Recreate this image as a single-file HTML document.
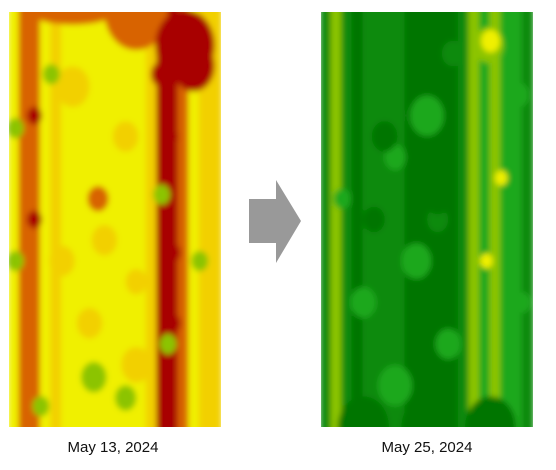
<!DOCTYPE html>
<html><head><meta charset="utf-8"><style>
body{margin:0;background:#fff;width:556px;height:470px;overflow:hidden;font-family:"Liberation Sans",sans-serif}
svg{position:absolute;left:0;top:0}
.lbl{position:absolute;top:439px;font-size:15px;color:#111;width:200px;text-align:center}
</style></head><body>
<svg id="s" width="556" height="470">
<defs>
<filter id="bl" x="-5%" y="-5%" width="110%" height="110%"><feGaussianBlur stdDeviation="3"/></filter>
<clipPath id="cl"><rect x="9" y="12" width="212" height="415"/></clipPath>
<clipPath id="cr"><rect x="321" y="12" width="212" height="415"/></clipPath>
</defs>
<g id="left" clip-path="url(#cl)"><g id="lg" filter="url(#bl)"></g></g>
<g id="right" clip-path="url(#cr)"><g id="rg" filter="url(#bl)"></g></g>
<polygon points="249,199 276,199 276,180 301,221 276,263 276,243 249,243" fill="#999"/>
</svg>
<div class="lbl" style="left:13px">May 13, 2024</div>
<div class="lbl" style="left:327px">May 25, 2024</div>
<script>
// column profiles (level 0=dark green .. 7=dark red), 20 columns per map
const leftCols=[4,6,6,4,5,4,4,4,4,4,4,4,4,5,7,7,6,4,5,5];
const rightCols=[1,3,1,0,1,1,1,1,0,0,0,0,0,1,3,2,3,2,2,1];
// patches: [colFrac, rowFrac, radiusFrac(of width), level]
const leftBlobs=[[0.3,0.0,0.2,6],[0.6,0.0,0.15,6],[0.83,0.08,0.14,7],[0.87,0.13,0.1,7],[0.3,0.18,0.08,5],[0.55,0.3,0.06,5],[0.42,0.45,0.05,6],[0.25,0.6,0.06,5],[0.38,0.75,0.06,5],[0.6,0.85,0.07,5],[0.45,0.55,0.06,5],[0.6,0.65,0.05,5],
[0.2,0.15,0.04,3],[0.72,0.44,0.04,3],[0.03,0.28,0.04,3],[0.03,0.6,0.04,3],[0.4,0.88,0.06,3],[0.55,0.93,0.05,3],[0.9,0.6,0.04,3],[0.15,0.95,0.04,3],[0.75,0.8,0.04,3],
[0.76,0.3,0.04,7],[0.77,0.58,0.04,7],[0.77,0.75,0.04,7],[0.12,0.5,0.035,7],[0.12,0.25,0.035,7],[0.72,0.15,0.05,7]];
const rightBlobs=[[0.79,0.08,0.07,3],[0.8,0.07,0.045,4],[0.1,0.45,0.04,2],[0.5,0.25,0.08,2],[0.35,0.35,0.05,2],[0.45,0.6,0.07,2],[0.2,0.7,0.06,2],[0.6,0.8,0.06,2],[0.35,0.9,0.08,2],[0.55,0.5,0.05,1],[0.3,0.55,0.05,1],
[0.3,0.3,0.06,0],[0.25,0.5,0.05,0],[0.55,0.45,0.06,0],[0.62,0.1,0.05,1],[0.85,0.4,0.03,4],[0.78,0.6,0.03,4],[0.93,0.2,0.05,2],[0.95,0.7,0.04,2],[0.2,1.0,0.12,0],[0.5,1.0,0.12,0],[0.8,1.0,0.12,0]];
const palette=["#007400","#0a8a0a","#1ea81e","#8cc400","#f0f000","#f2d000","#d86400","#a80000"];
const NS="http://www.w3.org/2000/svg";
const W=212,H=415,Y0=12;
function draw(gid,x0,cols,blobs){
  const g=document.getElementById(gid);
  const cw=W/cols.length;
  cols.forEach((v,i)=>{
    const r=document.createElementNS(NS,'rect');
    
    
    r.setAttribute('x',x0+i*cw-1);r.setAttribute('y',0);
    r.setAttribute('width',cw+2);r.setAttribute('height',470);
    r.setAttribute('fill',palette[v]);g.appendChild(r);
  });
  blobs.forEach(b=>{
    const e=document.createElementNS(NS,'ellipse');
    
    
    e.setAttribute('cx',x0+b[0]*W);e.setAttribute('cy',Y0+b[1]*H);
    e.setAttribute('rx',b[2]*W);e.setAttribute('ry',b[2]*W*(b[2]>0.15?0.3:1.2));
    e.setAttribute('fill',palette[b[3]]);g.appendChild(e);
  });
}
draw('lg',9,leftCols,leftBlobs);
draw('rg',321,rightCols,rightBlobs);
</script>
</body></html>
